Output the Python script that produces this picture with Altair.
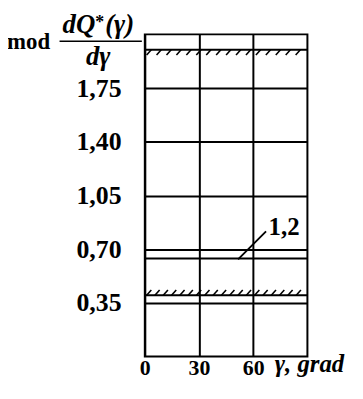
import altair as alt
import pandas as pd
import numpy as np

# ---- data ----
gamma_ticks = [0, 30, 60]
y_ticks = [0.35, 0.70, 1.05, 1.40, 1.75]
x_domain = [0, 90]
y_domain = [0, 2.10]
limit_top = 2.0        # hatched upper bound (hatch below)
limit_bottom = 0.40    # hatched lower bound (hatch above)
curve_1_2 = 0.64       # curves 1, 2
leader_x = [51.6, 67.1]
leader_y = [0.633, 0.816]
label_12 = "1,2"
label_12_pos = [68.5, 0.843]
x_title = "γ, grad"

W, H = 164, 325
FONT = "Liberation Serif"
FS = 25

xs = alt.Scale(domain=x_domain, nice=False, zero=False)
ys = alt.Scale(domain=y_domain, nice=False, zero=False)

levels = pd.DataFrame({"level": [limit_top, curve_1_2, limit_bottom]})

hlines = alt.Chart(levels).mark_rule(color="black", strokeWidth=2).encode(
    y=alt.Y("level:Q", scale=ys,
            axis=alt.Axis(values=y_ticks, title=None, domain=False, ticks=False, tickSize=0,
                          grid=True, gridColor="black", gridWidth=2, gridOpacity=1,
                          labelFlush=False,
                          labelExpr="replace(format(datum.value, '.2f'), '.', ',')",
                          labelFont=FONT, labelFontWeight="bold", labelFontSize=26,
                          labelColor="black", labelPadding=24)),
    x=alt.value(0), x2=alt.value(W),
)

# hatch strokes (decoration of the bound lines)
hx_top = np.arange(1.0, 88, 5.5)
hx_bot = np.arange(1.0, 88, 4.6)
hh = 0.034
hatch = pd.DataFrame({
    "x": np.concatenate([hx_top, hx_bot]),
    "x2": np.concatenate([hx_top + 2.6, hx_bot + 2.6]),
    "y": np.concatenate([np.full(len(hx_top), limit_top - hh), np.full(len(hx_bot), limit_bottom)]),
    "y2": np.concatenate([np.full(len(hx_top), limit_top), np.full(len(hx_bot), limit_bottom + hh)]),
})
hatch_layer = alt.Chart(hatch).mark_rule(color="black", strokeWidth=1.6).encode(
    x=alt.X("x:Q", scale=xs,
            axis=alt.Axis(values=gamma_ticks, title=None, domain=False, ticks=False, tickSize=0,
                          grid=True, gridColor="black", gridWidth=2, gridOpacity=1,
                          labelFlush=False,
                          labelFont=FONT, labelFontWeight="bold", labelFontSize=22,
                          labelBaseline="alphabetic",
                          labelColor="black", labelPadding=18)),
    x2="x2:Q", y=alt.Y("y:Q", scale=ys), y2="y2:Q",
)

leader = alt.Chart(pd.DataFrame({"x": [leader_x[0]], "x2": [leader_x[1]],
                                 "y": [leader_y[0]], "y2": [leader_y[1]]})).mark_rule(
    color="black", strokeWidth=1.8).encode(
    x=alt.X("x:Q", scale=xs), x2="x2:Q", y=alt.Y("y:Q", scale=ys), y2="y2:Q")

lab12 = alt.Chart(pd.DataFrame({"x": [label_12_pos[0]], "y": [label_12_pos[1]], "t": [label_12]})).mark_text(
    font=FONT, fontWeight="bold", fontSize=FS, align="left", baseline="middle", color="black").encode(
    x=alt.X("x:Q", scale=xs), y=alt.Y("y:Q", scale=ys), text="t:N")

one = pd.DataFrame({"a": [0]})
gtitle = alt.Chart(one).mark_text(
    font=FONT, fontWeight="bold", fontStyle="italic", fontSize=25, align="left",
    baseline="alphabetic", color="black", text=x_title).encode(
    x=alt.value(W - 33), y=alt.value(H + 16))

mod = alt.Chart(one).mark_text(
    font=FONT, fontWeight="bold", fontSize=23, align="left", baseline="alphabetic",
    color="black", text="mod").encode(x=alt.value(-139), y=alt.value(15))
num1 = alt.Chart(one).mark_text(
    font=FONT, fontWeight="bold", fontStyle="italic", fontSize=27, align="left",
    baseline="alphabetic", color="black", text="dQ").encode(x=alt.value(-83), y=alt.value(-1))
num2 = alt.Chart(one).mark_text(
    font=FONT, fontWeight="bold", fontSize=18, align="left",
    baseline="alphabetic", color="black", text="*").encode(x=alt.value(-50), y=alt.value(-6))
num3 = alt.Chart(one).mark_text(
    font=FONT, fontWeight="bold", fontStyle="italic", fontSize=27, align="left",
    baseline="alphabetic", color="black", text="(γ)").encode(x=alt.value(-40), y=alt.value(-1))
denom = alt.Chart(one).mark_text(
    font=FONT, fontWeight="bold", fontStyle="italic", fontSize=27, align="center",
    baseline="alphabetic", color="black", text="dγ").encode(x=alt.value(-47), y=alt.value(31))
frac = alt.Chart(one).mark_rule(color="black", strokeWidth=1.5).encode(
    x=alt.value(-86), x2=alt.value(-3), y=alt.value(7))

chart = alt.layer(hlines, hatch_layer, leader, lab12, gtitle, mod, num1, num2, num3, denom, frac).properties(
    width=W, height=H,
    autosize=alt.AutoSizeParams(type="none"),
    padding={"left": 138, "top": 25, "right": 48, "bottom": 22},
).configure_view(stroke="black", strokeWidth=2)

chart.save("out.html", embed_options={"renderer": "svg", "actions": False})
